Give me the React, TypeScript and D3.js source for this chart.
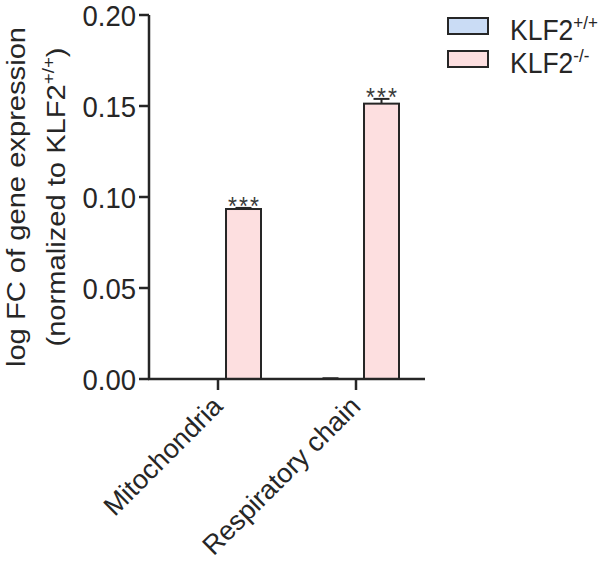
import * as d3 from "d3";
import { useEffect, useRef } from "react";

const categories = ["Mitochondria", "Respiratory chain"];
const series = ["KLF2+/+", "KLF2-/-"];
const seriesSup = ["+/+", "-/-"];
const wtValues = [0, 0.0002];
const wtErrors = [0, 0.0002];
const koValues = [0.0934, 0.1513];
const koErrors = [0.0006, 0.0026];
const koStars = ["***", "***"];
const yTicks = [0, 0.05, 0.1, 0.15, 0.2];
const fills = ["#cadcf5", "#fddfe0"];

const FONT = "'Liberation Sans', Arial, Helvetica, sans-serif";
// the source figure is a little taller than wide, text looks stretched
const SY = 1.1;

export default function App() {
  const ref = useRef<SVGSVGElement | null>(null);

  useEffect(() => {
    const svg = d3.select(ref.current);
    svg.selectAll("*").remove();
    const left = 149;
    const right = 425;
    const top = 15;
    const bottom = 379;
    const ink = "#262626";

    const y = d3.scaleLinear().domain([0, 0.2]).range([bottom, top]);
    const x0 = d3.scaleBand().domain(categories).range([left, right]).padding(0);
    const inner = 86;
    const x1 = d3.scaleBand().domain(series).range([0, inner]).paddingInner(0.314).paddingOuter(0);
    const groupOff = (x0.bandwidth() - inner) / 2;

    const g = svg.append("g").attr("font-family", FONT);

    const rows = categories.map((c, i) => ({
      c,
      bars: [
        { s: series[0], v: wtValues[i], e: wtErrors[i], fill: fills[0], star: "" },
        { s: series[1], v: koValues[i], e: koErrors[i], fill: fills[1], star: koStars[i] },
      ],
    }));

    rows.forEach((r) => {
      r.bars.forEach((b) => {
        const bx = (x0(r.c) as number) + groupOff + (x1(b.s) as number);
        const bw = x1.bandwidth();
        const cx = bx + bw / 2;
        if (b.v > 0.001) {
          g.append("rect")
            .attr("x", bx)
            .attr("y", y(b.v))
            .attr("width", bw)
            .attr("height", y(0) - y(b.v))
            .attr("fill", b.fill)
            .attr("stroke", ink)
            .attr("stroke-width", 2);
        }
        if (b.e > 0) {
          const yt = y(b.v + b.e);
          g.append("line")
            .attr("x1", cx).attr("x2", cx)
            .attr("y1", y(b.v)).attr("y2", yt)
            .attr("stroke", ink).attr("stroke-width", 2);
          g.append("line")
            .attr("x1", cx - 8).attr("x2", cx + 8)
            .attr("y1", yt).attr("y2", yt)
            .attr("stroke", ink).attr("stroke-width", 2);
        }
        if (b.star) {
          g.append("text")
            .attr("transform", `translate(${cx + 1},${y(b.v + b.e) + 7}) scale(1,${SY})`)
            .attr("text-anchor", "middle")
            .attr("font-size", 23)
            .attr("letter-spacing", 2)
            .attr("fill", "#3a3a3a")
            .text(b.star);
        }
      });
    });

    // y axis
    g.append("line")
      .attr("x1", left).attr("x2", left)
      .attr("y1", top).attr("y2", bottom)
      .attr("stroke", ink).attr("stroke-width", 2.5);
    yTicks.forEach((t) => {
      g.append("line")
        .attr("x1", left - 10).attr("x2", left)
        .attr("y1", y(t)).attr("y2", y(t))
        .attr("stroke", ink).attr("stroke-width", 2.5);
      g.append("text")
        .attr("transform", `translate(${left - 13},${y(t) + 10.5}) scale(1,${SY})`)
        .attr("text-anchor", "end")
        .attr("font-size", 27.5)
        .attr("fill", ink)
        .text(d3.format(".2f")(t));
    });

    // x axis
    g.append("line")
      .attr("x1", left - 1).attr("x2", right)
      .attr("y1", bottom).attr("y2", bottom)
      .attr("stroke", ink).attr("stroke-width", 2.5);
    categories.forEach((c) => {
      const cx = (x0(c) as number) + x0.bandwidth() / 2;
      g.append("line")
        .attr("x1", cx).attr("x2", cx)
        .attr("y1", bottom).attr("y2", bottom + 11)
        .attr("stroke", ink).attr("stroke-width", 2.5);
      g.append("text")
        .attr("transform", `translate(${cx + 6},${bottom + 29}) rotate(-45)`)
        .attr("text-anchor", "end")
        .attr("font-size", 27)
        .attr("fill", ink)
        .text(c);
    });

    // y title
    const mid = (top + bottom) / 2;
    g.append("text")
      .attr("transform", `translate(25,${mid}) scale(1,${SY}) rotate(-90)`)
      .attr("text-anchor", "middle")
      .attr("font-size", 26.5)
      .attr("fill", ink)
      .text("log FC of gene expression");
    const t2 = g.append("text")
      .attr("transform", `translate(65,${mid}) scale(1,${SY}) rotate(-90)`)
      .attr("text-anchor", "middle")
      .attr("font-size", 26.5)
      .attr("fill", ink);
    t2.append("tspan").text("(normalized to KLF2");
    t2.append("tspan").attr("dy", -11).attr("font-size", 17).text("+/+");
    t2.append("tspan").attr("dy", 11).text(")");

    // legend
    series.forEach((s, i) => {
      const ly = 18 + i * 33;
      g.append("rect")
        .attr("x", 448).attr("y", ly)
        .attr("width", 40).attr("height", 16)
        .attr("fill", fills[i])
        .attr("stroke", ink).attr("stroke-width", 2);
      const tx = g.append("text")
        .attr("transform", `translate(510,${ly + 22}) scale(1,${SY})`)
        .attr("font-size", 26.5)
        .attr("fill", ink);
      tx.append("tspan").text("KLF2");
      tx.append("tspan").attr("dy", -10).attr("font-size", 17).text(seriesSup[i]);
    });
  }, []);

  return (
    <div style={{ position: "absolute", left: 0, top: 0 }}>
      <svg ref={ref} width={602} height={565} style={{ display: "block", background: "#fff" }} />
    </div>
  );
}
